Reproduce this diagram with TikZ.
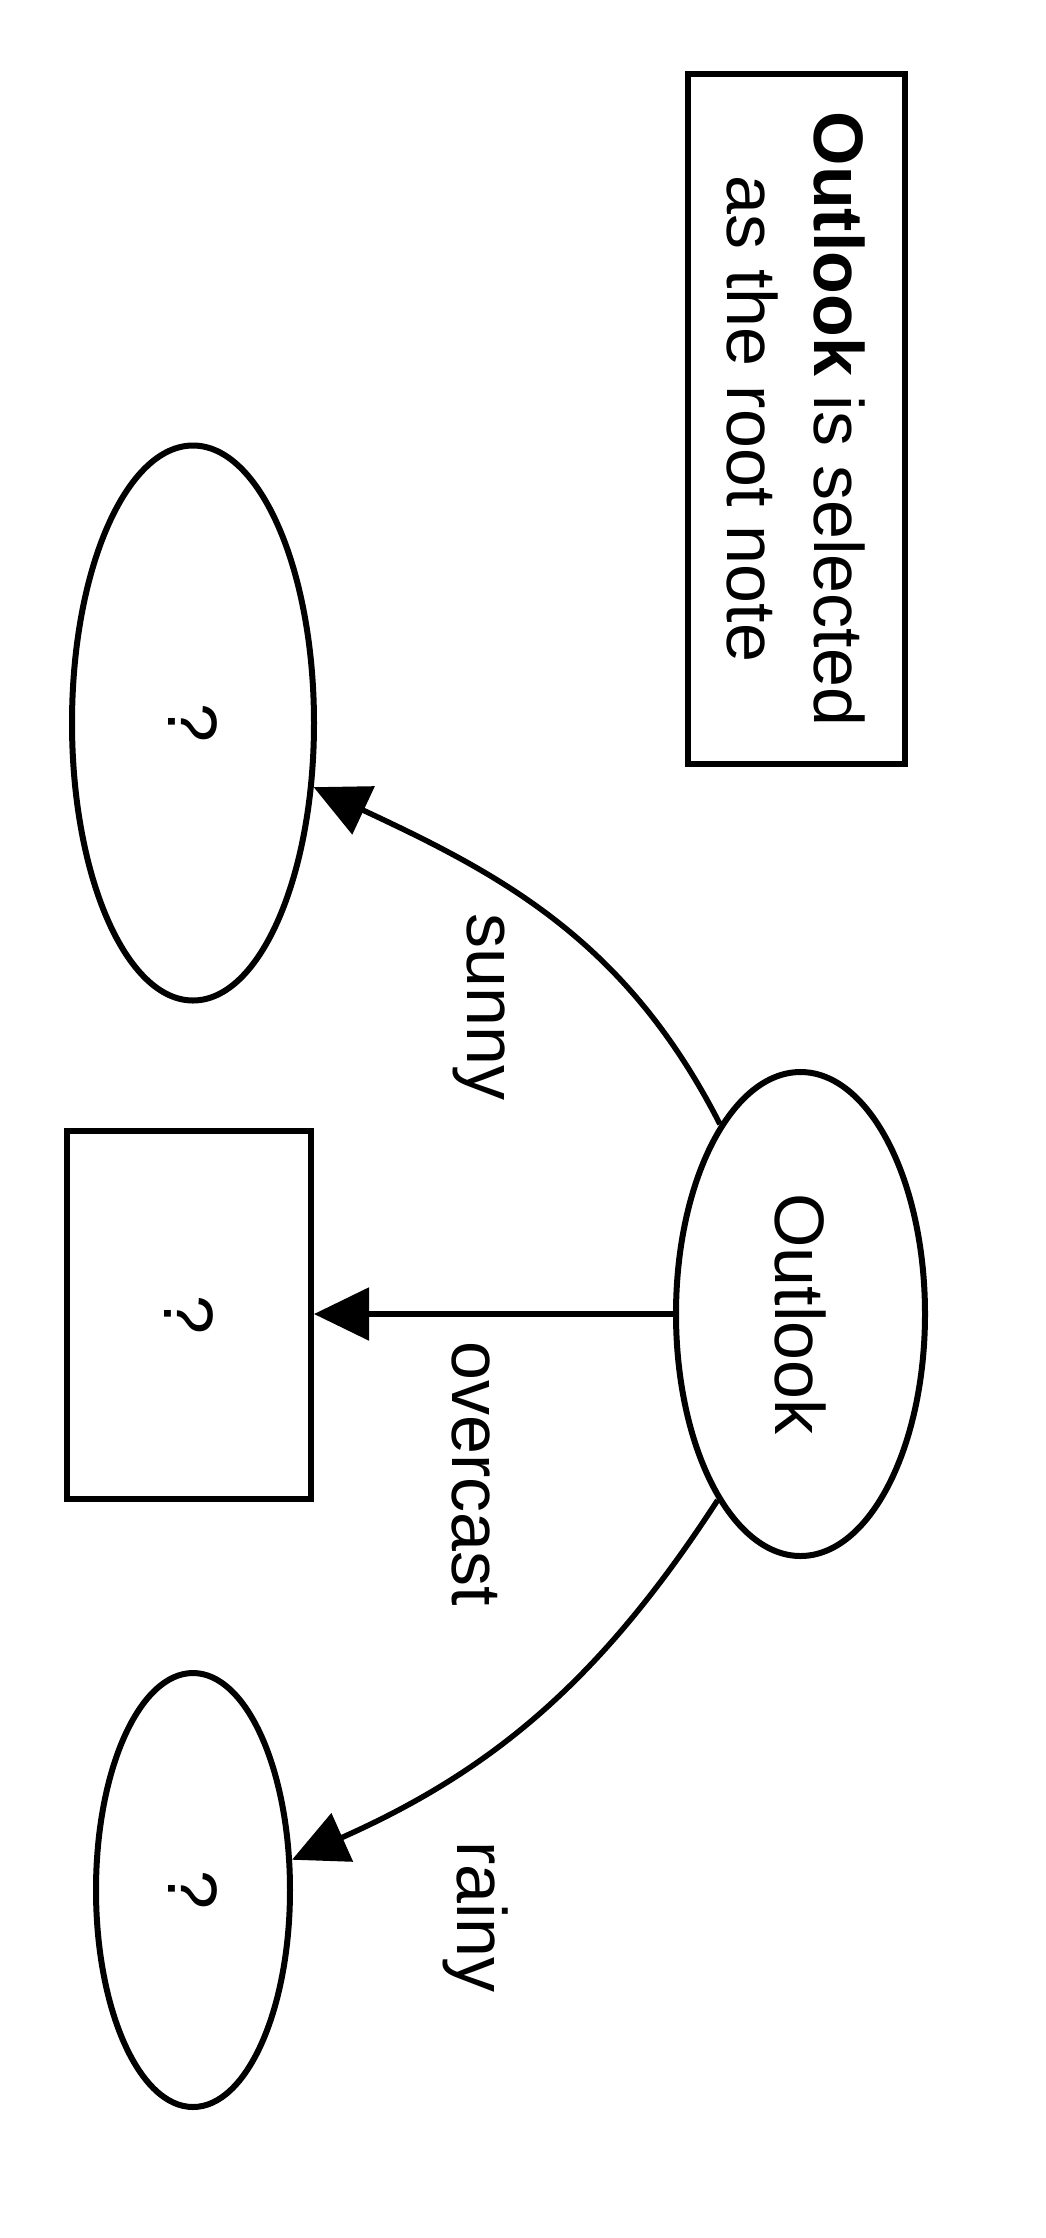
\documentclass[tikz,border=0pt]{standalone}
\usepackage{fontspec}
\setmainfont{Liberation Sans}
\usepackage{graphicx}
\usetikzlibrary{shapes.geometric,arrows.meta}
\begin{document}
\begin{tikzpicture}[x=1pt,y=1pt,
  every node/.style={font=\fontsize{70}{87}\selectfont, inner sep=0pt},
  leaf/.style={draw, line width=6pt, ellipse},
  box/.style={draw, line width=6pt, rectangle},
  lbl/.style={rotate=-90, anchor=base},
  arr/.style={line width=5.5pt, -{Triangle[length=55pt,width=52pt]}}]
\useasboundingbox (0,0) rectangle (1045,-2238);
\fill[white] (0,0) rectangle (1045,-2238);
% note box
\node[box, rotate=-90, minimum width=690pt, minimum height=217pt, align=center] (root) at (796.5,-419)
  {\textbf{Outlook} is selected\\as the root note};
% nodes
\node[leaf, minimum width=249pt, minimum height=484pt] (outlook) at (800.5,-1314) {\rotatebox{-90}{Outlook}};
\node[leaf, minimum width=242pt, minimum height=555pt] (sunny) at (193,-723) {\rotatebox{-90}{?}};
\node[box, minimum width=244pt, minimum height=368pt] (overcast) at (189,-1315) {\rotatebox{-90}{?}};
\node[leaf, minimum width=194pt, minimum height=434pt] (rainy) at (193,-1890) {\rotatebox{-90}{?}};
% connectors
\draw[arr] (outlook.113) to[out=117,in=-25] (sunny.-28);
\draw[arr] (outlook.west) -- (overcast.east |- outlook.west);
\draw[arr] (outlook.246) to[out=237,in=24] (rainy.17);
% labels
\node[lbl] (lsunny) at (467,-1007) {sunny};
\node[lbl] (lovercast) at (452,-1474) {overcast};
\node[lbl] (lrainy) at (457,-1917) {rainy};
\end{tikzpicture}
\end{document}
